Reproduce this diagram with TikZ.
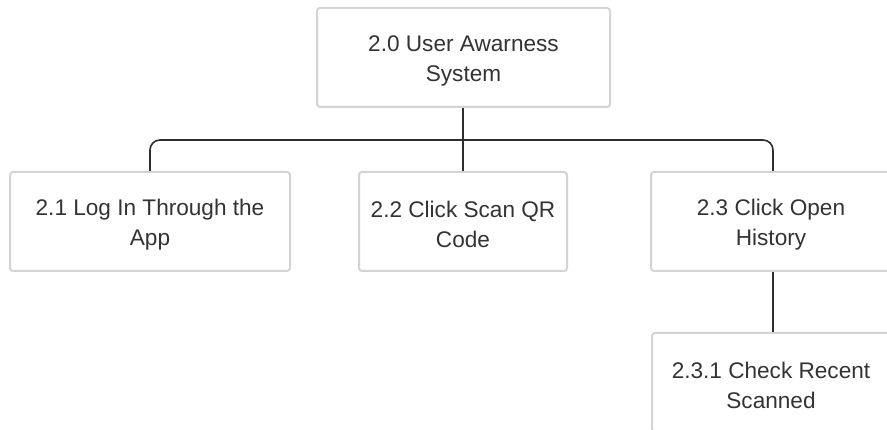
\documentclass[tikz,border=0pt]{standalone}
\usepackage{fontspec}
\setmainfont{Liberation Sans}
\usetikzlibrary{calc}
\definecolor{boxline}{HTML}{D4D4D4}
\definecolor{ink}{HTML}{333333}
\definecolor{conn}{HTML}{2E2E2E}
\tikzset{
  box/.style={draw=boxline, line width=2pt, rounded corners=3pt, fill=white,
    minimum height=99pt, inner sep=0pt},
  txt/.style={inner sep=0pt, align=center, text=ink,
    font=\fontsize{22.6}{30}\selectfont},
  conline/.style={draw=conn, line width=1.6pt}
}
\begin{document}
\begin{tikzpicture}[x=1pt,y=-1pt]
\useasboundingbox (0,0) rectangle (887,430);
\clip (0,0) rectangle (887,430);
\fill[white] (0,0) rectangle (887,430);
\node[box, minimum width=293pt] (top) at (463.5,57.5) {};
\node[box, minimum width=280pt] (n21) at (150,221.5) {};
\node[box, minimum width=208pt] (n22) at (463,221.5) {};
\node[box, minimum width=244pt] (n23) at (773,221.5) {};
\node[box, minimum width=242pt] (n231) at (773,382.5) {};
\node[txt] (t0) at ($(top.center)+(0,3)$) {2.0 User Awarness\\System};
\node[txt] (t21) at ($(n21.center)+(0,3)$) {2.1 Log In Through the\\App};
\node[txt] (t22) at ($(n22.center)+(0,3)$) {2.2 Click Scan QR\\Code};
\node[txt] (t23) at ($(n23.center)+(-2,3)$) {2.3 Click Open\\History};
\node[txt] (t231) at ($(n231.center)+(-2,3)$) {2.3.1 Check Recent\\Scanned};
\coordinate (j) at (463,140);
\draw[conline] (top.south -| n22.north) -- (n22.north);
\draw[conline] (n21.north) [rounded corners=10pt] |- ($(j)+(-11,0)$) [sharp corners] .. controls (j) .. ($(j)+(0,-11)$);
\draw[conline] (n23.north) [rounded corners=10pt] |- ($(j)+(11,0)$) [sharp corners] .. controls (j) .. ($(j)+(0,-11)$);
\draw[conline] (n23.south) -- (n231.north);
\end{tikzpicture}
\end{document}
